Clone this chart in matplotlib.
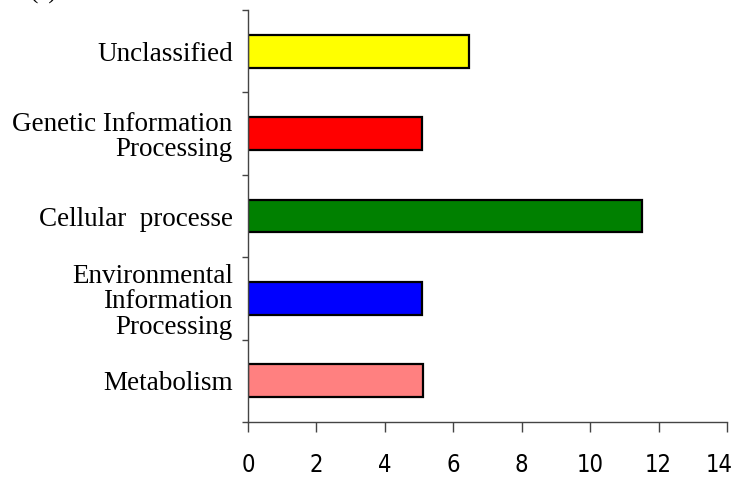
import numpy as np
import matplotlib
matplotlib.use("Agg")
import matplotlib.pyplot as plt
import matplotlib.transforms as mtransforms
from matplotlib.ticker import FixedLocator

# bottom to top
categories = [
    "Metabolism",
    "Environmental\nInformation\nProcessing",
    "Cellular  processe",
    "Genetic Information\nProcessing",
    "Unclassified",
]
values = [5.12, 5.1, 11.53, 5.1, 6.47]
colors = ["#ff8080", "#0000ff", "#008000", "#ff0000", "#ffff00"]
xticks = [0, 2, 4, 6, 8, 10, 12, 14]

fig = plt.figure(figsize=(7.36, 4.8), dpi=100)
ax = fig.add_axes([248 / 736, 58 / 480, 479 / 736, 412 / 480])

ypos = np.arange(len(categories))
ax.barh(ypos, values, height=0.4, color=colors, edgecolor="black", linewidth=1.6)

ax.set_xlim(0, 14)
ax.set_ylim(-0.5, len(categories) - 0.5)

ax.spines["top"].set_visible(False)
ax.spines["right"].set_visible(False)
for s in ("left", "bottom"):
    ax.spines[s].set_color("#444444")
    ax.spines[s].set_linewidth(1.0)

ax.set_yticks(ypos)
ax.set_yticklabels(categories, family=["Liberation Serif", "DejaVu Serif"],
                   fontsize=19.5, linespacing=1.03)
ax.tick_params(axis="y", which="major", length=0, pad=11)
ax.yaxis.set_minor_locator(FixedLocator(np.arange(-0.5, len(categories), 1.0)))
ax.tick_params(axis="y", which="minor", length=4, width=1.0, color="#444444")

ax.set_xticks(xticks)
ax.set_xticklabels([str(t) for t in xticks],
                   family=["Liberation Sans Narrow", "DejaVu Sans"],
                   fontstretch="condensed", fontsize=17)
ax.tick_params(axis="x", length=7, width=1.0, color="#444444", pad=15)
# the last label sits against the right edge, nudge it in a little
last = ax.get_xticklabels()[-1]
last.set_transform(last.get_transform()
                   + mtransforms.ScaledTranslation(-8 / 100, 0, fig.dpi_scale_trans))

# panel letter, cut by the top edge as in the original
fig.text(0.04, 1 + 1 / 480, "(a)", family=["Liberation Serif", "DejaVu Serif"],
         fontsize=18, va="baseline")

fig.savefig("out.png", dpi=100)
